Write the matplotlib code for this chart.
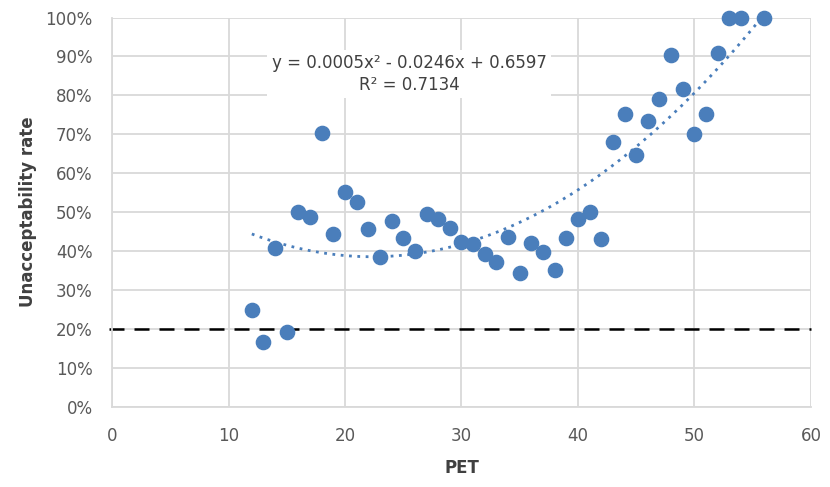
import numpy as np
import matplotlib.pyplot as plt
from matplotlib.ticker import PercentFormatter

# PET vs unacceptability rate
pet = [12, 13, 14, 15, 16, 17, 18, 19, 20, 21, 22, 23, 24, 25, 26, 27, 28, 29,
       30, 31, 32, 33, 34, 35, 36, 37, 38, 39, 40, 41, 42, 43, 44, 45, 46, 47,
       48, 49, 50, 51, 52, 53, 54, 56]
rate = [0.249, 0.166, 0.408, 0.192, 0.500, 0.488, 0.704, 0.444, 0.552, 0.526,
        0.457, 0.385, 0.477, 0.434, 0.400, 0.495, 0.482, 0.459, 0.423, 0.418,
        0.393, 0.372, 0.436, 0.344, 0.421, 0.398, 0.351, 0.434, 0.482, 0.500,
        0.431, 0.680, 0.752, 0.647, 0.734, 0.791, 0.904, 0.817, 0.701, 0.752,
        0.909, 1.000, 1.000, 1.000]
threshold = 0.20
eq_text = 'y = 0.0005x² - 0.0246x + 0.6597\nR² = 0.7134'

pet = np.array(pet)
rate = np.array(rate)
blue = '#4a7ebb'

fig = plt.figure(figsize=(8.3, 4.87), dpi=100)
ax = fig.add_axes([0.135, 0.165, 0.842, 0.799])

coef = np.polyfit(pet, rate, 2)
xs = np.linspace(pet.min(), pet.max(), 200)
ax.plot(xs, np.polyval(coef, xs), color=blue, linestyle=(0, (1, 2)), linewidth=2.0, zorder=3)
ax.scatter(pet, rate, s=105, color=blue, zorder=4, clip_on=False)
ax.plot([-0.3, 60], [threshold, threshold], color='black', linestyle=(0, (6, 4)),
        linewidth=1.8, zorder=2, clip_on=False)

ax.set_xlim(0, 60)
ax.set_ylim(0, 1)
ax.set_xticks(np.arange(0, 61, 10))
ax.set_yticks(np.arange(0, 1.01, 0.1))
ax.yaxis.set_major_formatter(PercentFormatter(1.0, decimals=0))
ax.grid(True, color='#d9d9d9', linewidth=1.3, zorder=0)
ax.set_axisbelow(True)
for s in ['top', 'right']:
    ax.spines[s].set_visible(False)
for s in ['left', 'bottom']:
    ax.spines[s].set_color('#d9d9d9')
    ax.spines[s].set_linewidth(1.3)
ax.tick_params(length=0, labelsize=12, labelcolor='#595959')
ax.tick_params(axis='x', pad=15)
ax.tick_params(axis='y', pad=14)

ax.set_xlabel('PET', fontsize=12, fontweight='bold', color='#404040', labelpad=10)
ax.set_ylabel('Unacceptability rate', fontsize=12, fontweight='bold', color='#404040', labelpad=6)

ax.text(25.5, 0.855, eq_text, ha='center', va='center', fontsize=12, color='#404040',
        linespacing=1.3, zorder=5,
        bbox=dict(facecolor='white', edgecolor='none', pad=3))

fig.savefig('out.png', dpi=100)
